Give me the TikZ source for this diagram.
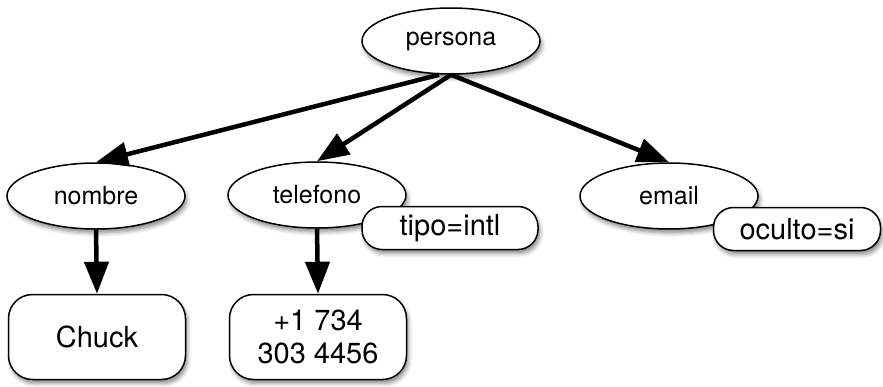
\documentclass[tikz,border=0pt]{standalone}
\usepackage{fontspec}
\setmainfont{TeX Gyre Heros}
\usepackage{tikz}
\usetikzlibrary{shapes.geometric}
\usetikzlibrary{shadows, shadows.blur}
\usetikzlibrary{arrows.meta}
\tikzset{>={Triangle[length=32pt,width=24pt]}}
\tikzset{
    softshadow/.style={
        blur shadow={shadow xshift=2pt, shadow yshift=-4pt, shadow blur radius=4pt, shadow opacity=45},
    },
    elemnode/.style={
        ellipse, draw, line width=1.5pt, fill=white, softshadow,
        minimum width=178pt, minimum height=66pt, inner sep=0pt,
        font=\fontsize{25}{27}\selectfont,
    },
    attrbox/.style={
        rectangle, draw, line width=1.5pt, fill=white, softshadow,
        rounded corners=20pt, minimum width=176pt, minimum height=43pt,
        inner sep=0pt, font=\fontsize{29}{31}\selectfont,
    },
    valbox/.style={
        rectangle, draw, line width=1.5pt, fill=white, softshadow,
        rounded corners=24pt, minimum width=177pt, minimum height=85pt,
        inner sep=0pt, align=center, font=\fontsize{29}{33}\selectfont,
    },
    link/.style={line width=4.5pt, ->},
}

\begin{document}
\begin{tikzpicture}[x=1pt, y=1pt]
        \useasboundingbox (0,0) rectangle (883,-386);

        % elements
        \node[elemnode] (persona) at (451,-41) {persona};
        \node[elemnode] (nombre) at (96,-196) {nombre};
        \node[elemnode] (telefono) at (317,-195) {telefono};
        \node[elemnode] (email) at (669,-196) {email};

        % attributes
        \node[attrbox] (tipo) at (450,-228) {tipo=intl};
        \node[attrbox, minimum width=167pt] (oculto) at (797,-229) {oculto=si};

        % text values
        \node[valbox] (chuck) at (97,-337) {Chuck};
        \node[valbox] (numero) at (318,-337) {+1 734\\303 4456};

        % children
        \draw[link] ([xshift=-12pt]persona.south) -- (nombre.north);
        \draw[link] (persona.south) -- (telefono.north);
        \draw[link] (persona.south) -- (email.north);
        \draw[link] (nombre.south) -- (chuck.north);
        \draw[link] (telefono.south) -- (numero.north);
    \end{tikzpicture}
\end{document}
